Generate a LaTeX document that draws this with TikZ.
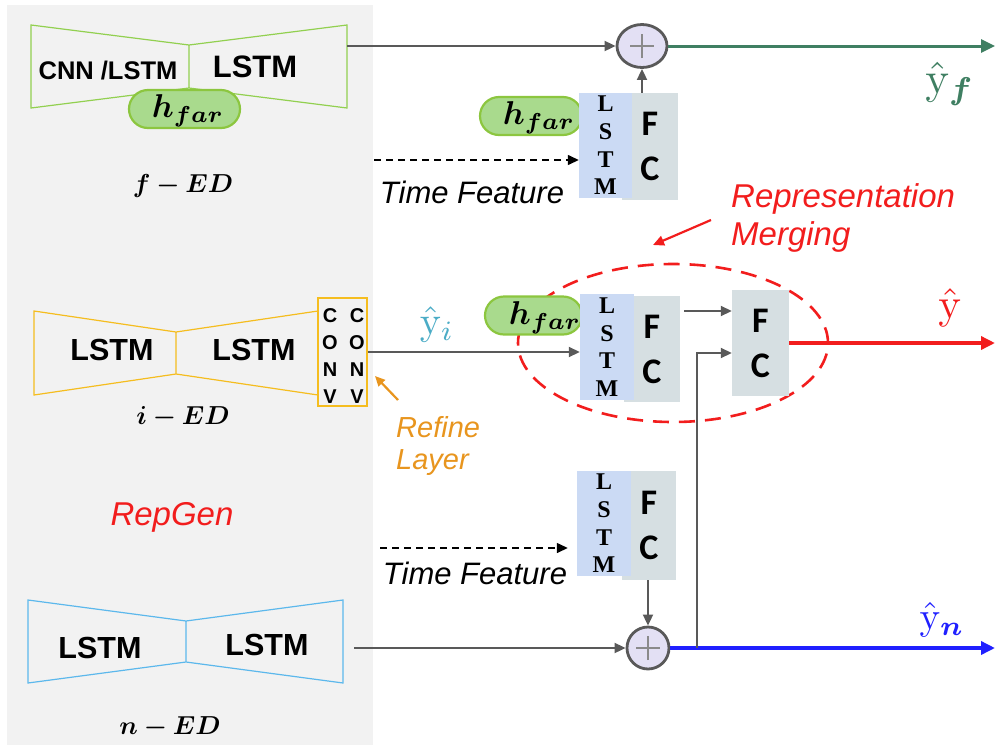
\documentclass[tikz,border=0pt]{standalone}
\usepackage{amsmath,bm,graphicx}
\usepackage[no-math]{fontspec}
\setmainfont{Liberation Sans}
\newfontfamily\tnrfont{Liberation Serif}
\newfontfamily\fcfont{Carlito}
\usetikzlibrary{arrows.meta,shapes.geometric}
\newcommand\mysc[2]{\scalebox{#1}{\normalsize$#2$}}
\definecolor{bgc}{HTML}{F2F2F2}
\definecolor{grn}{HTML}{92D050}
\definecolor{pillc}{HTML}{A9DA8D}
\definecolor{pillb}{HTML}{8CC63F}
\definecolor{gold}{HTML}{F5BD1F}
\definecolor{lblue}{HTML}{5CB8EC}
\definecolor{lstmc}{HTML}{CBDAF4}
\definecolor{fcc}{HTML}{D6DFE2}
\definecolor{arrg}{HTML}{595959}
\definecolor{plusc}{HTML}{E3E0F4}
\definecolor{plusg}{HTML}{8A8A8A}
\definecolor{outg}{HTML}{3F7F62}
\definecolor{teal}{HTML}{4BACC6}
\definecolor{redc}{HTML}{F21D1D}
\definecolor{bluec}{HTML}{2020FF}
\definecolor{orng}{HTML}{E8951E}
\tikzset{
  conn/.style={draw=arrg, line width=1.8pt, -{Triangle[length=11pt,width=10pt]}},
  tfarrow/.style={draw=black, line width=1.4pt, dash pattern=on 7pt off 5pt, -{Triangle[length=11pt,width=10pt]}},
  outarrow/.style={line width=3.4pt, -{Triangle[length=14pt,width=13pt]}},
  lstmbox/.style={fill=lstmc, minimum width=54pt, minimum height=106pt, inner sep=0pt, align=center, font=\tnrfont\bfseries\fontsize{24}{27.7}\selectfont},
  fcbox/.style={fill=fcc, minimum width=56pt, minimum height=106pt, inner sep=0pt, align=center, font=\fcfont\bfseries\fontsize{36}{45}\selectfont},
  pill/.style={fill=pillc, draw=pillb, line width=2.2pt, rounded corners=19pt, minimum height=38pt, inner sep=0pt},
  mathlbl/.style={inner sep=0pt},
  plussign/.style={line width=2.8pt, draw=arrg, fill=plusc, inner sep=0pt,
    path picture={\draw[plusg, line width=1.1pt]
      ([xshift=-12pt]path picture bounding box.center) -- ([xshift=12pt]path picture bounding box.center)
      ([yshift=-12pt]path picture bounding box.center) -- ([yshift=12pt]path picture bounding box.center);}},
  bsans/.style={font=\bfseries\fontsize{#1}{#1}\selectfont, inner sep=0pt},
  itsans/.style={font=\itshape\fontsize{#1}{#1}\selectfont, inner sep=0pt},
  convtxt/.style={font=\bfseries\fontsize{20}{27.3}\selectfont, align=center, inner sep=0pt},
}
\begin{document}
\begin{tikzpicture}[x=1pt,y=-1pt]
\useasboundingbox (0,0) rectangle (997,745);
\fill[bgc] (7,5) rectangle (373,745);

% ---------- f-ED ----------
\draw[grn, line width=1.2pt] (31,25) -- (189,45) -- (347,25) -- (347,108) -- (189,88) -- (31,108) -- cycle (189,45) -- (189,88);
\node[bsans=25.5] (cnn) at (108,71) {CNN /LSTM};
\node[bsans=31] (lstmF) at (255,67) {LSTM};
\node[pill, minimum width=111pt] (pillF) at (184.5,109) {};
\node[mathlbl] (hfarF) at (188,111) {\mysc{3.3}{\bm{h_{far}}}};
\node[mathlbl] (fEDl) at (183,186) {\mysc{2.6}{\bm{f-ED}}};
\coordinate (fEDout) at (347,46);

% ---------- top branch ----------
\node[pill, minimum width=102pt] (pillT) at (531,116) {};
\node[mathlbl] (hfarT) at (539,118) {\mysc{3.3}{\bm{h_{far}}}};
\node[fcbox, minimum height=107pt] (fcT) at (650,146.5) {F\\C};
\node[lstmbox, minimum width=53pt, minimum height=105pt] (lstmT) at (605.5,145.5) {L\\S\\T\\M};
\node[ellipse, plussign, minimum width=50pt, minimum height=43pt] (plusT) at (642,46) {};
\draw[conn] (fEDout) -- (plusT.west);
\draw[conn] (fcT.north -| plusT) -- (plusT.south);
\coordinate (outF) at (995,46);
\draw[outarrow, outg, line width=3pt] (plusT.east) -- (outF);
\node[mathlbl, text=outg] (yf) at (950,84) {\mysc{4.5}{\hat{\mathrm{y}}_{\bm{f}}}};
\coordinate (tfTs) at (374,160);
\draw[tfarrow] (tfTs) -- (tfTs -| lstmT.west);
\node[itsans=31] (tfT) at (472,192) {Time Feature};

% ---------- representation merging ----------
\node[text=redc, align=left, anchor=west, inner sep=0pt, font=\itshape\fontsize{33}{38}\selectfont] (rm) at (731,218) {Representation\\Merging};
\coordinate (rmTail) at (711,220);
\coordinate (rmTip) at (653,245);
\draw[redc, line width=2.2pt, -{Triangle[length=11pt,width=10pt]}] (rmTail) -- (rmTip);

% ---------- i-ED ----------
\draw[gold, line width=1.2pt] (34,311) -- (176,332) -- (318,311) -- (318,395) -- (176,374) -- (34,395) -- cycle (176,332) -- (176,374);
\node[draw=gold, line width=1.2pt, minimum width=49pt, minimum height=108pt, inner sep=0pt] (conv) at (342.5,352) {};
\node[convtxt] (conv1) at (330,356) {C\\O\\N\\V};
\node[convtxt] (conv2) at (357,356) {C\\O\\N\\V};
\node[bsans=30.5] (lstmI1) at (112,350) {LSTM};
\node[bsans=30.5] (lstmI2) at (254,350) {LSTM};
\node[mathlbl] (iEDl) at (183,417) {\mysc{2.6}{\bm{i-ED}}};
\node[itsans=33, text=redc] (repgen) at (172,517) {RepGen};
\coordinate (refTail) at (398,400);
\coordinate (refTip) at (375,376);
\draw[orng, line width=2.2pt, -{Triangle[length=10pt,width=9pt]}] (refTail) -- (refTip);
\node[text=orng, align=left, anchor=west, inner sep=0pt, font=\itshape\fontsize{29}{32}\selectfont] (refine) at (396,446) {Refine\\Layer};

% ---------- middle branch ----------
\node[ellipse, draw=redc, line width=2.6pt, dash pattern=on 16pt off 10pt, minimum width=310pt, minimum height=158pt] (merge) at (673,343) {};
\node[pill, minimum width=97pt] (pillM) at (533.5,315.5) {};
\node[mathlbl] (hfarM) at (545,318) {\mysc{3.3}{\bm{h_{far}}}};
\node[fcbox] (fcM) at (652,349) {F\\C};
\node[lstmbox] (lstmM) at (607,347) {L\\S\\T\\M};
\node[fcbox, minimum width=57pt] (fc2) at (760.5,343) {F\\C};
\draw[conn] (conv.east) -- (conv.east -| lstmM.west);
\node[mathlbl, text=teal] (yi) at (437,324) {\mysc{4.0}{\hat{\mathrm{y}}_{i}}};
\coordinate (mfc) at (684,311);
\draw[conn] (mfc) -- (mfc -| fc2.west);
\coordinate (outM) at (995,343);
\draw[outarrow, redc] (fc2.east) -- (outM);
\node[mathlbl, text=redc] (yhat) at (950,308) {\mysc{4.3}{\hat{\mathrm{y}}}};

% ---------- bottom branch ----------
\node[fcbox, minimum width=54pt, minimum height=109pt] (fcB) at (649,525.5) {F\\C};
\node[lstmbox, minimum height=105pt] (lstmB) at (604,523.5) {L\\S\\T\\M};
\coordinate (tfBs) at (380,548);
\draw[tfarrow] (tfBs) -- ([xshift=-9pt]tfBs -| lstmB.west);
\node[itsans=31] (tfB) at (475,573) {Time Feature};
\node[circle, plussign, minimum size=42pt] (plusB) at (648,648) {};
\draw[conn] (fcB.south -| plusB) -- (plusB.north);
\coordinate (outN) at (995,648);
\draw[outarrow, bluec] (plusB.east) -- (outN);
\node[mathlbl, text=bluec] (yn) at (942,620) {\mysc{3.9}{\hat{\mathrm{y}}_{\bm{n}}}};
\coordinate (junc) at (697,648);
\draw[conn] (junc) |- ([yshift=-10pt]fc2.west);

% ---------- n-ED ----------
\draw[lblue, line width=1.2pt] (28,600) -- (186,621) -- (343,600) -- (343,683) -- (186,662) -- (28,683) -- cycle (186,621) -- (186,662);
\node[bsans=30.5] (lstmN1) at (100,648) {LSTM};
\node[bsans=30.5] (lstmN2) at (267,645) {LSTM};
\node[mathlbl] (nEDl) at (170,727) {\mysc{2.6}{\bm{n-ED}}};
\coordinate (nEDout) at (354,648);
\draw[conn] (nEDout) -- (plusB.west);
\end{tikzpicture}
\end{document}
